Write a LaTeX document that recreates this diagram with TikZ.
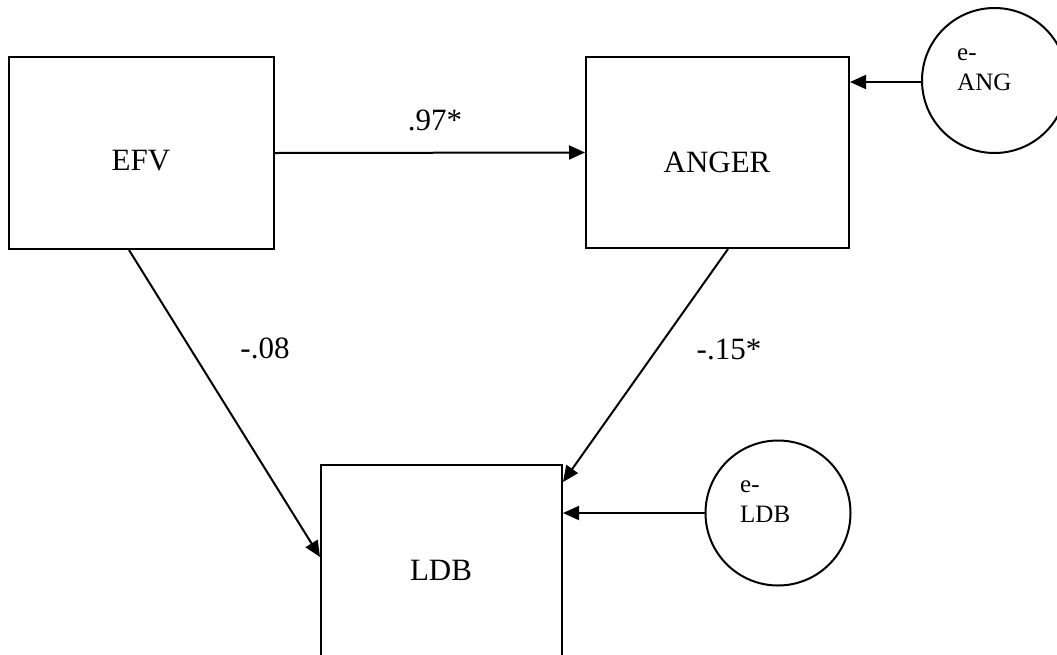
\documentclass[tikz,border=0pt]{standalone}
\usepackage{fontspec}
\setmainfont{Liberation Serif}
\usetikzlibrary{arrows.meta,calc}
\tikzset{
  boxnode/.style={draw, line width=2pt, rectangle, inner sep=0pt},
  errnode/.style={draw, line width=2pt, circle, inner sep=0pt, minimum size=145pt},
  bigtxt/.style={font=\fontsize{31}{36}\selectfont, inner sep=0pt},
  smalltxt/.style={font=\fontsize{25}{30}\selectfont, align=left, inner sep=0pt, anchor=west},
  coef/.style={font=\fontsize{31}{36}\selectfont, inner sep=0pt},
  path/.style={line width=2pt, -{Triangle[length=16pt,width=14pt]}}
}
\begin{document}
\begin{tikzpicture}[x=1pt,y=-1pt]
\useasboundingbox (0,0) rectangle (1057,654);
% boxes
\node[boxnode, minimum width=265pt, minimum height=192pt] (efv) at (141.5,153) {};
\node[boxnode, minimum width=263pt, minimum height=191pt] (anger) at (717.5,152.5) {};
\node[boxnode, minimum width=241pt, minimum height=240pt] (ldb) at (441.5,585) {};
% box texts
\node[bigtxt] (efvt) at (141,161) {EFV};
\node[bigtxt] (angert) at (717,162) {ANGER};
\node[bigtxt] (ldbt) at (441,570) {LDB};
% error circles
\node[errnode] (eang) at (994.5,80.5) {};
\node[errnode] (eldb) at (778,513) {};
\node[smalltxt] (eangt) at (957,70) {e-\\ANG};
\node[smalltxt] (eldbt) at (740,502) {e-\\LDB};
% paths
\draw[path] (efv.east) -- (anger.west);
\draw[path] (eang.west |- 0,82) -- (anger.east |- 0,82);
\draw[path] (eldb.west) -- (ldb.east |- eldb.west);
\draw[path] ([xshift=121pt]efv.south west) -- ([yshift=-93pt]ldb.north west);
\draw[path] ([xshift=143pt]anger.south west) -- ([yshift=-18pt]ldb.north east);
% coefficients
\node[coef] (c1) at (435,120) {.97*};
\node[coef] (c2) at (265,348) {-.08};
\node[coef] (c3) at (729,349) {-.15*};
\end{tikzpicture}
\end{document}
